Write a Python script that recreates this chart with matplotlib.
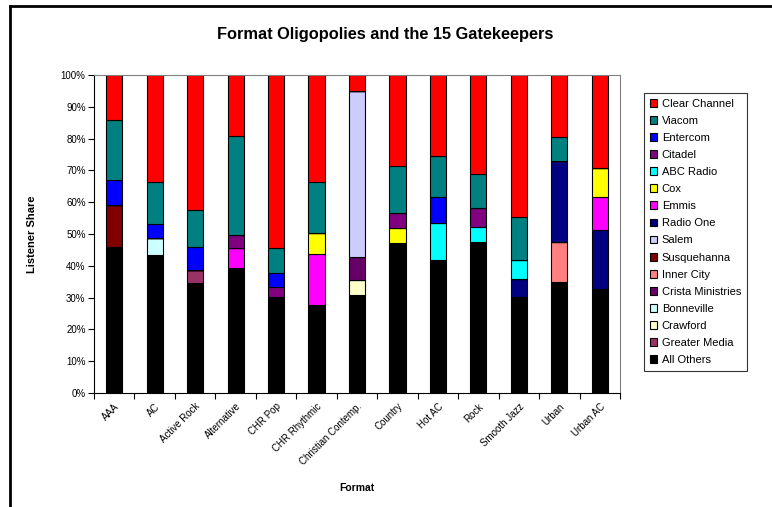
import matplotlib
matplotlib.use("Agg")
import matplotlib.pyplot as plt
import numpy as np
from matplotlib.lines import Line2D
from matplotlib.ticker import FixedLocator, FuncFormatter

plt.rcParams['font.family'] = ['Liberation Sans', 'DejaVu Sans']

formats = ["AAA", "AC", "Active Rock", "Alternative", "CHR Pop", "CHR Rhythmic",
           "Christian Contemp.", "Country", "Hot AC", "Rock", "Smooth Jazz",
           "Urban", "Urban AC"]

# listener share (%) per owner, stacked bottom to top in this order
all_others = [45.9, 43.4, 34.6, 39.3, 30.2, 27.8, 30.7, 47.2, 41.9, 47.5, 30.2, 35.0, 32.7]
greater_media = [0, 0, 4.2, 0, 0, 0, 0, 0, 0, 0, 0, 0, 0]
crawford = [0, 0, 0, 0, 0, 0, 4.7, 0, 0, 0, 0, 0, 0]
bonneville = [0, 5.3, 0, 0, 0, 0, 0, 0, 0, 0, 0, 0, 0]
crista = [0, 0, 0, 0, 0, 0, 7.4, 0, 0, 0, 0, 0, 0]
inner_city = [0, 0, 0, 0, 0, 0, 0, 0, 0, 0, 0, 12.4, 0]
susquehanna = [13.1, 0, 0, 0, 0, 0, 0, 0, 0, 0, 0, 0, 0]
salem = [0, 0, 0, 0, 0, 0, 52.2, 0, 0, 0, 0, 0, 0]
radio_one = [0, 0, 0, 0, 0, 0, 0, 0, 0, 0, 5.6, 25.7, 18.7]
emmis = [0, 0, 0, 6.3, 0, 15.8, 0, 0, 0, 0, 0, 0, 10.2]
cox = [0, 0, 0, 0, 0, 6.7, 0, 4.6, 0, 0, 0, 0, 9.2]
abc_radio = [0, 0, 0, 0, 0, 0, 0, 0, 11.7, 4.7, 6.0, 0, 0]
citadel = [0, 0, 0, 4.0, 3.0, 0, 0, 4.8, 0, 6.0, 0, 0, 0]
entercom = [7.9, 4.5, 7.1, 0, 4.5, 0, 0, 0, 8.1, 0, 0, 0, 0]
viacom = [18.8, 13.2, 11.7, 31.3, 7.8, 16.1, 0, 14.7, 12.9, 10.7, 13.5, 7.3, 0]
clear_channel = [14.3, 33.6, 42.4, 19.1, 54.5, 33.6, 5.0, 28.7, 25.4, 31.1, 44.7, 19.6, 29.2]

series = [
    ("All Others", all_others, "#000000"),
    ("Greater Media", greater_media, "#993366"),
    ("Crawford", crawford, "#FFFFCC"),
    ("Bonneville", bonneville, "#CCFFFF"),
    ("Crista Ministries", crista, "#660066"),
    ("Inner City", inner_city, "#FF8080"),
    ("Susquehanna", susquehanna, "#800000"),
    ("Salem", salem, "#CCCCFF"),
    ("Radio One", radio_one, "#000080"),
    ("Emmis", emmis, "#FF00FF"),
    ("Cox", cox, "#FFFF00"),
    ("ABC Radio", abc_radio, "#00FFFF"),
    ("Citadel", citadel, "#800080"),
    ("Entercom", entercom, "#0000FF"),
    ("Viacom", viacom, "#008080"),
    ("Clear Channel", clear_channel, "#FF0000"),
]

fig = plt.figure(figsize=(7.72, 5.07), dpi=100)
ax = fig.add_axes([94 / 772, 1 - 393 / 507, (620 - 94) / 772, (393 - 75) / 507])

x = np.arange(len(formats))
bottom = np.zeros(len(formats))
bars = []
for name, vals, col in series:
    vals = np.array(vals)
    b = ax.bar(x, vals, 0.4, bottom=bottom, color=col, edgecolor="black",
               linewidth=0.8, label=name)
    bars.append(b)
    bottom += vals

ax.set_xlim(-0.5, len(formats) - 0.5)
ax.set_ylim(0, 100)
ax.set_yticks(np.arange(0, 101, 10))
ax.yaxis.set_major_formatter(FuncFormatter(lambda v, p: "%d%%" % v))
ax.set_xticks(x)
ax.set_xticklabels(formats, rotation=45, ha="right", rotation_mode="anchor", fontsize=7)
ax.tick_params(axis="x", which="major", length=0, pad=6)
ax.xaxis.set_minor_locator(FixedLocator(np.arange(-0.5, len(formats), 1)))
ax.tick_params(axis="x", which="minor", length=4, direction="out", width=0.8)
ax.tick_params(axis="y", labelsize=7, length=4, width=0.8, pad=2)

for s in ["top", "right"]:
    ax.spines[s].set_color("#808080")
    ax.spines[s].set_linewidth(0.8)
for s in ["left", "bottom"]:
    ax.spines[s].set_linewidth(0.8)

fig.text(32 / 772, 1 - 234 / 507, "Listener Share", fontsize=8, fontweight="bold",
         rotation=90, ha="center", va="center")
fig.text(357 / 772, 1 - 488 / 507, "Format", fontsize=7.5, fontweight="bold",
         ha="center", va="center")
fig.text(385 / 772, 1 - 35 / 507, "Format Oligopolies and the 15 Gatekeepers",
         fontsize=11.75, fontweight="bold", ha="center", va="center")

handles = bars[::-1]
labels = [s[0] for s in series][::-1]
leg = fig.legend(handles, labels, loc="upper left",
                 bbox_to_anchor=(644 / 772, 1 - 93 / 507), fontsize=8,
                 frameon=True, fancybox=False, edgecolor="black",
                 handlelength=0.7, handleheight=0.7, handletextpad=0.4,
                 labelspacing=0.64, borderpad=0.5, borderaxespad=0)
leg.get_frame().set_linewidth(0.8)

# outer chart border (cropped on the right and bottom)
fig.add_artist(Line2D([10 / 772, 10 / 772], [0, 1 - 6 / 507], color="black",
                      linewidth=2, transform=fig.transFigure))
fig.add_artist(Line2D([10 / 772, 1], [1 - 6 / 507, 1 - 6 / 507], color="black",
                      linewidth=2, transform=fig.transFigure))

fig.savefig("out.png", dpi=100)
